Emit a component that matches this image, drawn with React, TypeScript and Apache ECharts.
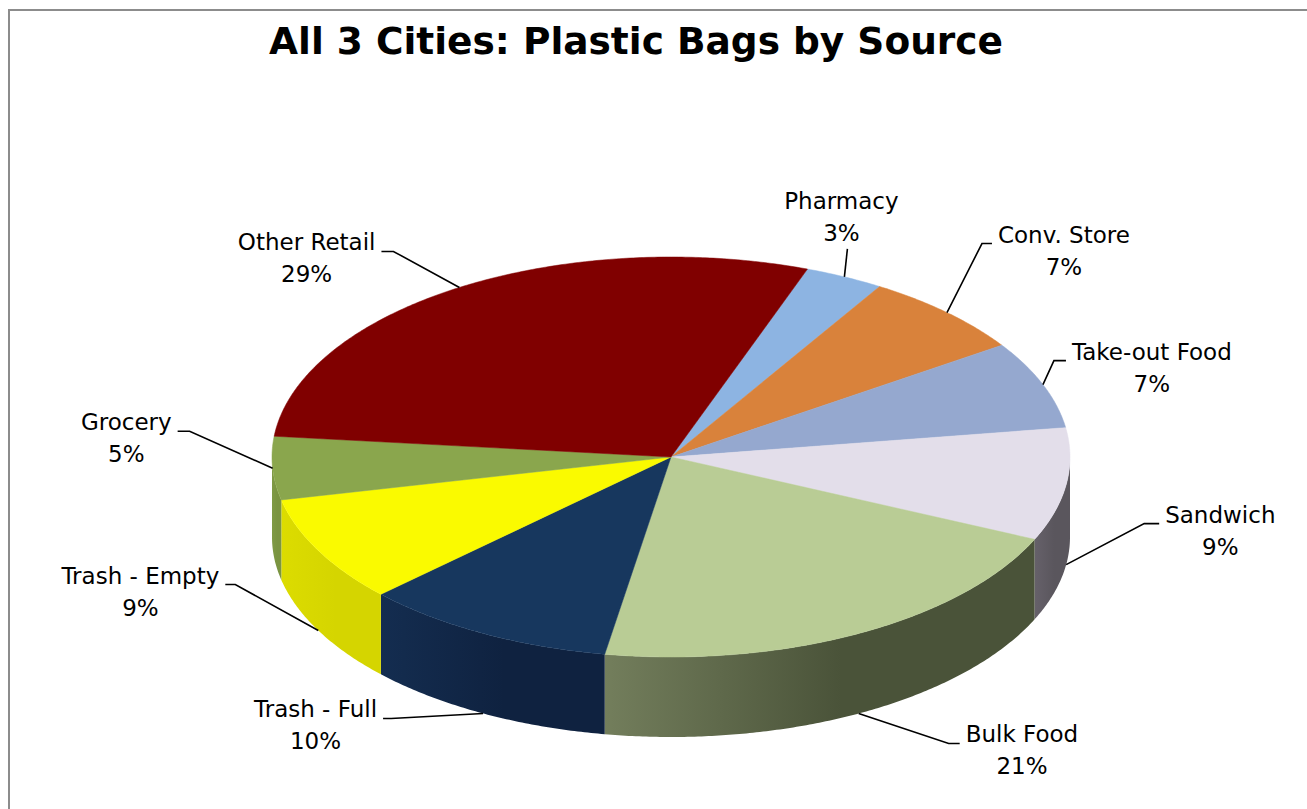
import React, { useEffect, useRef } from "react";
import * as echarts from "echarts";

// ---- data ----
const title = "All 3 Cities: Plastic Bags by Source";
const categories = [
  "Pharmacy",
  "Conv. Store",
  "Take-out Food",
  "Sandwich",
  "Bulk Food",
  "Trash - Full",
  "Trash - Empty",
  "Grocery",
  "Other Retail",
];
const shares = [3.2, 6.8, 7.1, 9.1, 20.9, 10.3, 8.6, 5.1, 28.9];

// ---- styles ----
const topColors = [
  "#8DB4E2",
  "#D9823B",
  "#95A8CF",
  "#E3DEEA",
  "#B9CC95",
  "#17375E",
  "#FAFA00",
  "#8AA64D",
  "#800000",
];
const sideColors = [
  ["#7A9CC4", "#6F8DB2"],
  ["#B86E32", "#A8642D"],
  ["#7F8FB0", "#74839F"],
  ["#66616A", "#5A565D"],
  ["#737E5C", "#4A5339"],
  ["#142D50", "#0F2240"],
  ["#DCDC00", "#D5D500"],
  ["#7F9A45", "#7A9441"],
  ["#6A0000", "#600000"],
];

// pie geometry (pixels) and rotation of first slice (degrees clockwise from 12 o'clock)
const START_ANGLE = 20;
const CX = 671;
const CY = 457;
const RX = 399;
const RY = 200;
const DEPTH = 80;

// leader line layout: elbow offset from anchor, horizontal tail length, anchor on bottom edge (1) or top edge (0)
const labelLayout = [
  { dx: 3, dy: -28, h: 0, bottom: 0 },
  { dx: 35, dy: -69, h: 10, bottom: 0 },
  { dx: 11, dy: -24, h: 12, bottom: 0 },
  { dx: 78, dy: -41, h: 15, bottom: 1 },
  { dx: 90, dy: 30, h: 11, bottom: 1 },
  { dx: -92, dy: 5, h: 8, bottom: 1 },
  { dx: -83, dy: -46, h: 10, bottom: 1 },
  { dx: -83, dy: -37, h: 12, bottom: 0 },
  { dx: -66, dy: -36, h: 12, bottom: 0 },
];

const LABEL_FONT = 23;
const LABEL_FAMILY = "DejaVu Sans";
const LINE_H = 32;

const total = shares.reduce((a, b) => a + b, 0);
const startAngles: number[] = [];
{
  let acc = START_ANGLE;
  for (const v of shares) {
    startAngles.push(acc);
    acc += (v / total) * 360;
  }
}

const rad = (d: number) => (d * Math.PI) / 180;
const pt = (deg: number, dy = 0): number[] => [
  CX + RX * Math.sin(rad(deg)),
  CY - RY * Math.cos(rad(deg)) + dy,
];

let measureCtx: CanvasRenderingContext2D | null = null;
function textWidth(t: string): number {
  if (!measureCtx) {
    const c = document.createElement("canvas");
    measureCtx = c.getContext("2d");
  }
  if (!measureCtx) return t.length * LABEL_FONT * 0.6;
  measureCtx.font = `${LABEL_FONT}px "${LABEL_FAMILY}"`;
  return measureCtx.measureText(t).width;
}

function arc(a: number, b: number, dy = 0): number[][] {
  const out: number[][] = [];
  const n = Math.max(2, Math.ceil(Math.abs(b - a) / 0.5));
  for (let k = 0; k <= n; k++) out.push(pt(a + ((b - a) * k) / n, dy));
  return out;
}

export default function App() {
  const ref = useRef<HTMLDivElement>(null);

  useEffect(() => {
    if (!ref.current) return;
    const chart = echarts.init(ref.current, null, { renderer: "svg" });

    const renderItem = (params: any, api: any) => {
      const i = params.dataIndex;
      const v = api.value(0) as number;
      const s = startAngles[i];
      const e = s + (v / total) * 360;
      const children: any[] = [];

      // visible side wall (front half: 90..270 degrees)
      const fs = Math.max(s, 90);
      const fe = Math.min(e, 270);
      if (fe > fs) {
        const topArc = arc(fs, fe, 0);
        const botArc = arc(fe, fs, DEPTH);
        const pts = topArc.concat(botArc);
        const xs = pts.map((p) => p[0]);
        const x0 = Math.min(...xs);
        const x1 = Math.max(...xs);
        const [light, dark] = sideColors[i];
        children.push({
          type: "polygon",
          shape: { points: pts },
          style: {
            fill: new echarts.graphic.LinearGradient(
              x0,
              0,
              x1,
              0,
              [
                { offset: 0, color: light },
                { offset: 0.55, color: dark },
                { offset: 1, color: dark },
              ],
              true
            ),
            stroke: null,
          },
        });
      }

      // top face
      const top = [[CX, CY]].concat(arc(s, e, 0));
      children.push({
        type: "polygon",
        shape: { points: top },
        style: { fill: topColors[i], stroke: topColors[i], lineWidth: 0.5 },
      });

      // leader line + label
      const mid = (s + e) / 2;
      const L = labelLayout[i];
      const frontFactor = Math.cos(rad(mid)) < 0 ? L.bottom : 0;
      const anchor = pt(mid, DEPTH * frontFactor);
      const elbow = [anchor[0] + L.dx, anchor[1] + L.dy];
      const pct = Math.round((v / total) * 100);
      const name = categories[i];
      const text = `${name}\n${pct}%`;
      const w = Math.max(textWidth(name), textWidth(`${pct}%`));
      let tx: number;
      let ty: number;
      const linePts: number[][] = [anchor, elbow];
      if (L.h === 0) {
        tx = elbow[0] - 6;
        ty = elbow[1] - 2 * LINE_H;
      } else {
        const dir = Math.sin(rad(mid)) >= 0 ? 1 : -1;
        const tail = [elbow[0] + dir * L.h, elbow[1]];
        linePts.push(tail);
        tx = tail[0] + dir * (6 + w / 2);
        ty = elbow[1] - 25;
      }
      children.push({
        type: "polyline",
        shape: { points: linePts },
        style: { stroke: "#000", lineWidth: 1.6, fill: null },
      });
      children.push({
        type: "text",
        style: {
          text,
          x: tx,
          y: ty,
          align: "center",
          verticalAlign: "top",
          fontSize: LABEL_FONT,
          fontFamily: LABEL_FAMILY,
          lineHeight: LINE_H,
          fill: "#000",
        },
      });

      return { type: "group", children };
    };

    chart.setOption({
      animation: false,
      backgroundColor: "#ffffff",
      title: {
        text: title,
        left: 631,
        textAlign: "center",
        top: 17,
        textStyle: {
          fontSize: 37.5,
          fontWeight: "bold",
          fontFamily: "DejaVu Sans",
          color: "#000",
        },
      },
      graphic: [
        {
          type: "rect",
          shape: { x: 9, y: 10, width: 1400, height: 900 },
          style: { fill: "none", stroke: "#8c8c8c", lineWidth: 2 },
          silent: true,
        },
      ],
      series: [
        {
          type: "custom",
          coordinateSystem: "none",
          renderItem,
          data: shares.map((v, i) => ({ name: categories[i], value: v })),
          silent: true,
        },
      ],
    });

    return () => chart.dispose();
  }, []);

  return (
    <div
      ref={ref}
      style={{
        position: "fixed",
        left: 0,
        top: 0,
        width: 1307,
        height: 809,
        background: "#fff",
      }}
    />
  );
}
